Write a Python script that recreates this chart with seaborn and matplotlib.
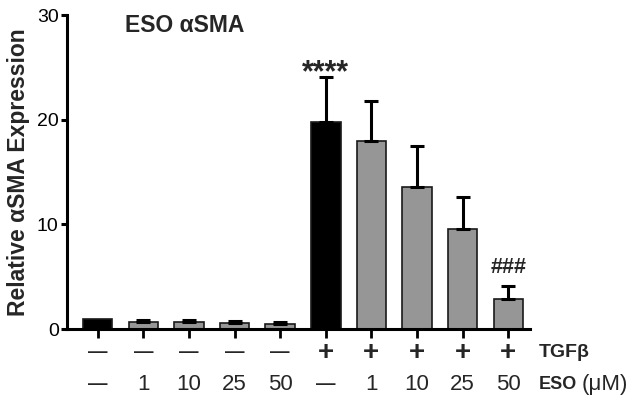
import numpy as np
import pandas as pd
import matplotlib
matplotlib.use("Agg")
import matplotlib.pyplot as plt
import seaborn as sns

# ---- data ----
conditions = ["C1", "C2", "C3", "C4", "C5", "C6", "C7", "C8", "C9", "C10"]
treatment = ["vehicle", "eso", "eso", "eso", "eso", "vehicle", "eso", "eso", "eso", "eso"]
tgf_labels = ["—", "—", "—", "—", "—", "+", "+", "+", "+", "+"]
eso_labels = ["—", "1", "10", "25", "50", "—", "1", "10", "25", "50"]
values = [0.93, 0.68, 0.68, 0.6, 0.5, 19.8, 18.0, 13.6, 9.55, 2.87]
errors = [0.0, 0.17, 0.17, 0.15, 0.2, 4.3, 3.75, 3.85, 3.1, 1.23]
y_ticks = [0, 10, 20, 30]

sns.set_theme(style="ticks")
plt.rcParams["font.family"] = ["Liberation Sans", "DejaVu Sans"]

df = pd.DataFrame({"cond": conditions, "value": values, "treat": treatment})

fig = plt.figure(figsize=(6.41, 4.0), dpi=100)
ax = fig.add_axes([67 / 641, (400 - 329) / 400, 463 / 641, 314 / 400])

sns.barplot(data=df, x="cond", y="value", hue="treat",
            palette={"vehicle": "black", "eso": "#969696"},
            dodge=False, width=0.647, saturation=1,
            edgecolor="#1a1a1a", linewidth=1.2, legend=False, ax=ax)

pos = np.arange(len(values))
vals = np.array(values)
errs = np.array(errors)
m = errs > 0
ax.errorbar(pos[m], vals[m], yerr=[np.zeros(m.sum()), errs[m]], fmt="none",
            ecolor="black", elinewidth=2.2, capsize=4.7, capthick=2.2, zorder=3)

ax.set_xlim(-0.673, 9.476)
ax.set_ylim(0, 30)
ax.set_yticks(y_ticks)
ax.set_yticklabels([str(t) for t in y_ticks], fontsize=14)
ax.set_xticks(pos)
ax.set_xticklabels([""] * len(pos))
ax.set_xlabel("")
ax.set_ylabel("Relative αSMA Expression", fontsize=16.5, fontweight="bold",
              labelpad=5)
sns.despine(ax=ax)
for s in ("left", "bottom"):
    ax.spines[s].set_linewidth(2.2)
    ax.spines[s].set_color("black")
ax.tick_params(axis="y", length=4.5, width=2.2, pad=1.5, colors="black")
ax.tick_params(axis="x", length=6.5, width=2.0, colors="black")

trans = ax.get_xaxis_transform()
for i, (t, e) in enumerate(zip(tgf_labels, eso_labels)):
    if t == "+":
        ax.text(i, -0.0764, t, transform=trans, ha="center", va="center",
                fontsize=20, fontweight="bold")
    else:
        ax.text(i, -0.0764, t, transform=trans, ha="center", va="center",
                fontsize=14, fontweight="bold")
    if e == "—":
        ax.text(i, -0.178, e, transform=trans, ha="center", va="center",
                fontsize=14, fontweight="bold")
    else:
        ax.text(i, -0.178, e, transform=trans, ha="center", va="center",
                fontsize=16)

ax.text(9.673, -0.0764, "TGFβ", transform=trans, ha="left", va="center",
        fontsize=14, fontweight="bold", clip_on=False)
eso_t = ax.text(9.673, -0.178, "ESO", transform=trans, ha="left", va="center",
                fontsize=13, fontweight="bold", clip_on=False)
ax.annotate("(μM)", xy=(1, 0.5), xycoords=eso_t, xytext=(3, 0),
            textcoords="offset points", ha="left", va="center", fontsize=16)

ax.text(5, 23.7, "****", ha="center", va="baseline", fontsize=22,
        fontweight="bold")
ax.text(9, 5.35, "###", ha="center", va="baseline", fontsize=15.5,
        fontweight="bold")

fig.text(125 / 641, 1 - 26 / 400, "ESO αSMA", ha="left", va="center",
         fontsize=16.5, fontweight="bold")

fig.savefig("out.png", dpi=100)
